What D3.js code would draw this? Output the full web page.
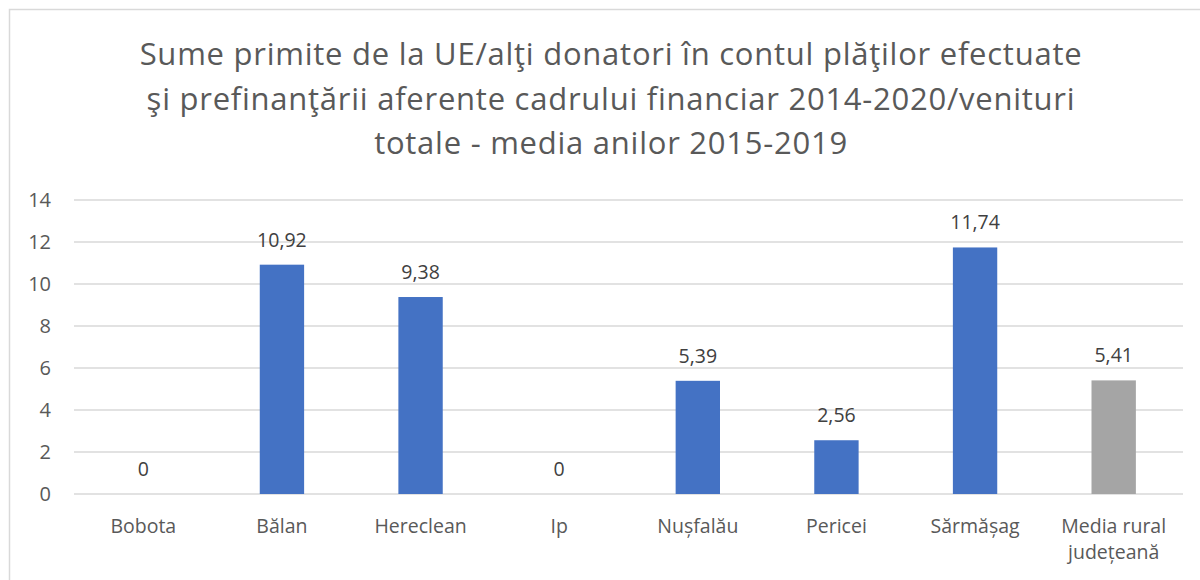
<!DOCTYPE html>
<html>
<head>
<meta charset="utf-8">
<script src="https://cdn.jsdelivr.net/npm/d3@7"></script>
<style>
  body { margin: 0; background: #fff; }
  svg { display: block; font-family: "Open Sans", sans-serif; }
</style>
</head>
<body>
<div id="chart"></div>
<script>
var categories = ["Bobota", "Bălan", "Hereclean", "Ip", "Nușfalău", "Pericei", "Sărmășag", "Media rural județeană"];
var values = [0, 10.92, 9.38, 0, 5.39, 2.56, 11.74, 5.41];
var yTicks = [0, 2, 4, 6, 8, 10, 12, 14];
var titleLines = [
  "Sume primite de la UE/alţi donatori în contul plăţilor efectuate",
  "şi prefinanţării aferente cadrului financiar 2014-2020/venituri",
  "totale - media anilor 2015-2019"
];

(function() {
  var width = 1200, height = 580;
  var margin = { top: 200, left: 74, right: 17, bottom: 86 };
  var innerW = width - margin.left - margin.right,
      innerH = height - margin.top - margin.bottom;

  var svg = d3.select("#chart").append("svg")
    .attr("width", width)
    .attr("height", height);

  // chart frame
  svg.append("rect")
    .attr("x", 9.5).attr("y", 9.5)
    .attr("width", width).attr("height", height)
    .attr("fill", "none")
    .attr("stroke", "#d9d9d9")
    .attr("stroke-width", 1.5);

  svg.append("g").selectAll("text")
    .data(titleLines)
    .enter().append("text")
    .attr("x", 611)
    .attr("y", function(d, i) { return 65 + i * 44.5; })
    .attr("text-anchor", "middle")
    .attr("fill", "#595959")
    .style("font-size", "31px")
    .style("letter-spacing", "0.75px")
    .text(function(d) { return d; });

  var g = svg.append("g")
    .attr("transform", "translate(" + margin.left + "," + margin.top + ")");

  var x = d3.scaleBand().domain(categories).range([0, innerW]).paddingInner(0.68).paddingOuter(0.34);
  var y = d3.scaleLinear().domain([0, 14]).range([innerH, 0]);

  g.append("g").selectAll("line")
    .data(yTicks)
    .enter().append("line")
    .attr("x1", 0).attr("x2", innerW)
    .attr("y1", function(d) { return y(d); })
    .attr("y2", function(d) { return y(d); })
    .attr("stroke", "#d9d9d9")
    .attr("stroke-width", 1.3);

  var yAxis = d3.axisLeft(y).tickValues(yTicks).tickSize(0).tickPadding(23);
  g.append("g")
    .attr("class", "y-axis")
    .call(yAxis)
    .call(function(s) { s.select(".domain").remove(); })
    .selectAll("text")
    .attr("fill", "#595959")
    .style("font-size", "20px")
    .style("font-family", "'Open Sans', sans-serif");

  g.selectAll("rect.bar")
    .data(values)
    .enter().append("rect")
    .attr("class", "bar")
    .attr("x", function(d, i) { return x(categories[i]); })
    .attr("y", function(d) { return y(d); })
    .attr("width", x.bandwidth())
    .attr("height", function(d) { return innerH - y(d); })
    .attr("fill", function(d, i) { return i === categories.length - 1 ? "#a5a5a5" : "#4472c4"; });

  g.selectAll("text.lbl")
    .data(values)
    .enter().append("text")
    .attr("class", "lbl")
    .attr("x", function(d, i) { return x(categories[i]) + x.bandwidth() / 2; })
    .attr("y", function(d) { return y(d) - 18; })
    .attr("text-anchor", "middle")
    .attr("fill", "#404040")
    .style("font-size", "19.5px")
    .text(function(d) { return d === 0 ? "0" : d3.format(".2f")(d).replace(".", ","); });

  var xAxis = d3.axisBottom(x).tickSize(0).tickPadding(25);
  var xg = g.append("g")
    .attr("transform", "translate(0," + innerH + ")")
    .call(xAxis);
  xg.select(".domain").remove();
  xg.selectAll("text")
    .attr("fill", "#595959")
    .style("font-size", "19.5px")
    .style("font-family", "'Open Sans', sans-serif")
    .each(function(d) {
      if (d === "Media rural județeană") {
        var t = d3.select(this).text(null);
        t.append("tspan").attr("x", 0).attr("dy", "0.71em").text("Media rural");
        t.append("tspan").attr("x", 0).attr("dy", "1.33em").text("județeană");
        t.attr("dy", null);
      }
    });
})();
</script>
</body>
</html>
